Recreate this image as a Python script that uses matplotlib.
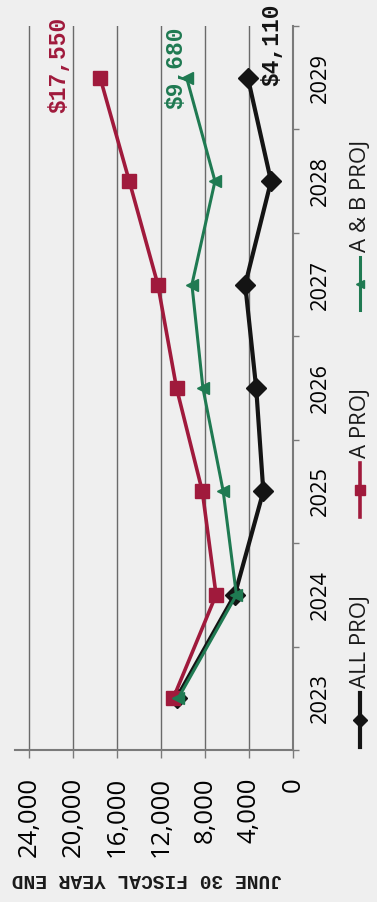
import matplotlib
matplotlib.use('Agg')
import matplotlib.pyplot as plt
from matplotlib.lines import Line2D

# fiscal years and projected balances
years = [2023, 2024, 2025, 2026, 2027, 2028, 2029]
all_proj = [10600, 5300, 2700, 3350, 4350, 2000, 4110]
a_proj = [10900, 7000, 8250, 10600, 12300, 14900, 17550]
ab_proj = [10450, 5150, 6350, 8200, 9200, 7100, 9680]
value_ticks = [0, 4000, 8000, 12000, 16000, 20000, 24000]
series_names = ['ALL PROJ', 'A PROJ', 'A & B PROJ']

BG = '#efefef'
GRID = '#6a6a6a'
AXIS = '#7a7a7a'
BLACK = '#141414'
RED = '#a01a3c'
GREEN = '#1f7a52'

W, H = 377, 902


def fx(px):
    return px / W


def fy(py):
    return 1 - py / H


def main():
    plt.rcParams['font.family'] = ['Open Sans', 'DejaVu Sans']
    fig = plt.figure(figsize=(W / 100, H / 100), dpi=100, facecolor=BG)
    # the chart is laid out sideways: years run up the page, values run right to left
    ax = fig.add_axes([fx(15), fy(750), (293 - 15) / W, (750 - 26) / H])
    ax.set_facecolor(BG)

    styles = [
        (all_proj, BLACK, 'D', 10, 3.0, (17.4, 23.8)),
        (a_proj, RED, 's', 10, 2.6, (-29.5, 9.4)),
        (ab_proj, GREEN, '<', 8, 2.2, (-7.6, 7.2)),
    ]
    for vals, color, marker, ms, lw, offset in styles:
        ax.plot(vals, years, color=color, lw=lw, marker=marker, ms=ms,
                mfc=color, mec=color, zorder=3)
        ax.annotate(f'${vals[-1]:,}', xy=(vals[-1], years[-1]), xytext=offset,
                    textcoords='offset points', rotation=90, ha='center', va='center',
                    color=color, fontsize=16.5, fontweight='bold',
                    family=['Liberation Mono', 'DejaVu Sans Mono'], zorder=4)

    ax.set_xlim(25300, 0)
    ax.set_ylim(2022.5, 2029.5)

    for side in ['top', 'left']:
        ax.spines[side].set_visible(False)
    for side in ['bottom', 'right']:
        ax.spines[side].set_color(AXIS)
        ax.spines[side].set_linewidth(1.5)

    ax.set_xticks(value_ticks)
    ax.set_xticklabels([f'{v:,}' for v in value_ticks], rotation=90, fontsize=18.5)
    ax.tick_params(axis='x', length=6, width=1, color=AXIS, pad=13.5)
    ax.grid(axis='x', color=GRID, lw=1.0, zorder=1)
    ax.set_axisbelow(True)

    ax.yaxis.tick_right()
    ax.set_yticks(years)
    ax.set_yticklabels([str(y) for y in years], rotation=90, va='center', fontsize=15.7)
    ax.set_yticks([y - 0.5 for y in years] + [years[-1] + 0.5], minor=True)
    ax.tick_params(axis='y', which='major', length=0, pad=12)
    ax.tick_params(axis='y', which='minor', length=4, width=1, color=AXIS)

    # legend, stacked along the right edge
    legend_spots = [(693, 747), (463, 517), (257, 310)]
    for (vals, color, marker, ms, lw, _), name, (top, bottom) in zip(styles, series_names, legend_spots):
        fig.add_artist(Line2D([fx(360), fx(360)], [fy(bottom), fy(top)], color=color, lw=lw,
                              transform=fig.transFigure))
        fig.add_artist(Line2D([fx(360)], [fy((top + bottom) / 2)], color=color, marker=marker,
                              ms=ms * 0.7, ls='none', transform=fig.transFigure))
        fig.text(fx(360), fy(top - 5), name, rotation=90, ha='center', va='bottom',
                 fontsize=16, color='#1a1a1a')

    fig.text(fx(147), fy(879), 'JUNE 30 FISCAL YEAR END', rotation=180, ha='center',
             va='center', fontsize=14.1, fontweight='bold', color='#1a1a1a',
             family=['Liberation Mono', 'DejaVu Sans Mono'])

    fig.savefig('out.png', dpi=100, facecolor=BG)


if __name__ == '__main__':
    main()
